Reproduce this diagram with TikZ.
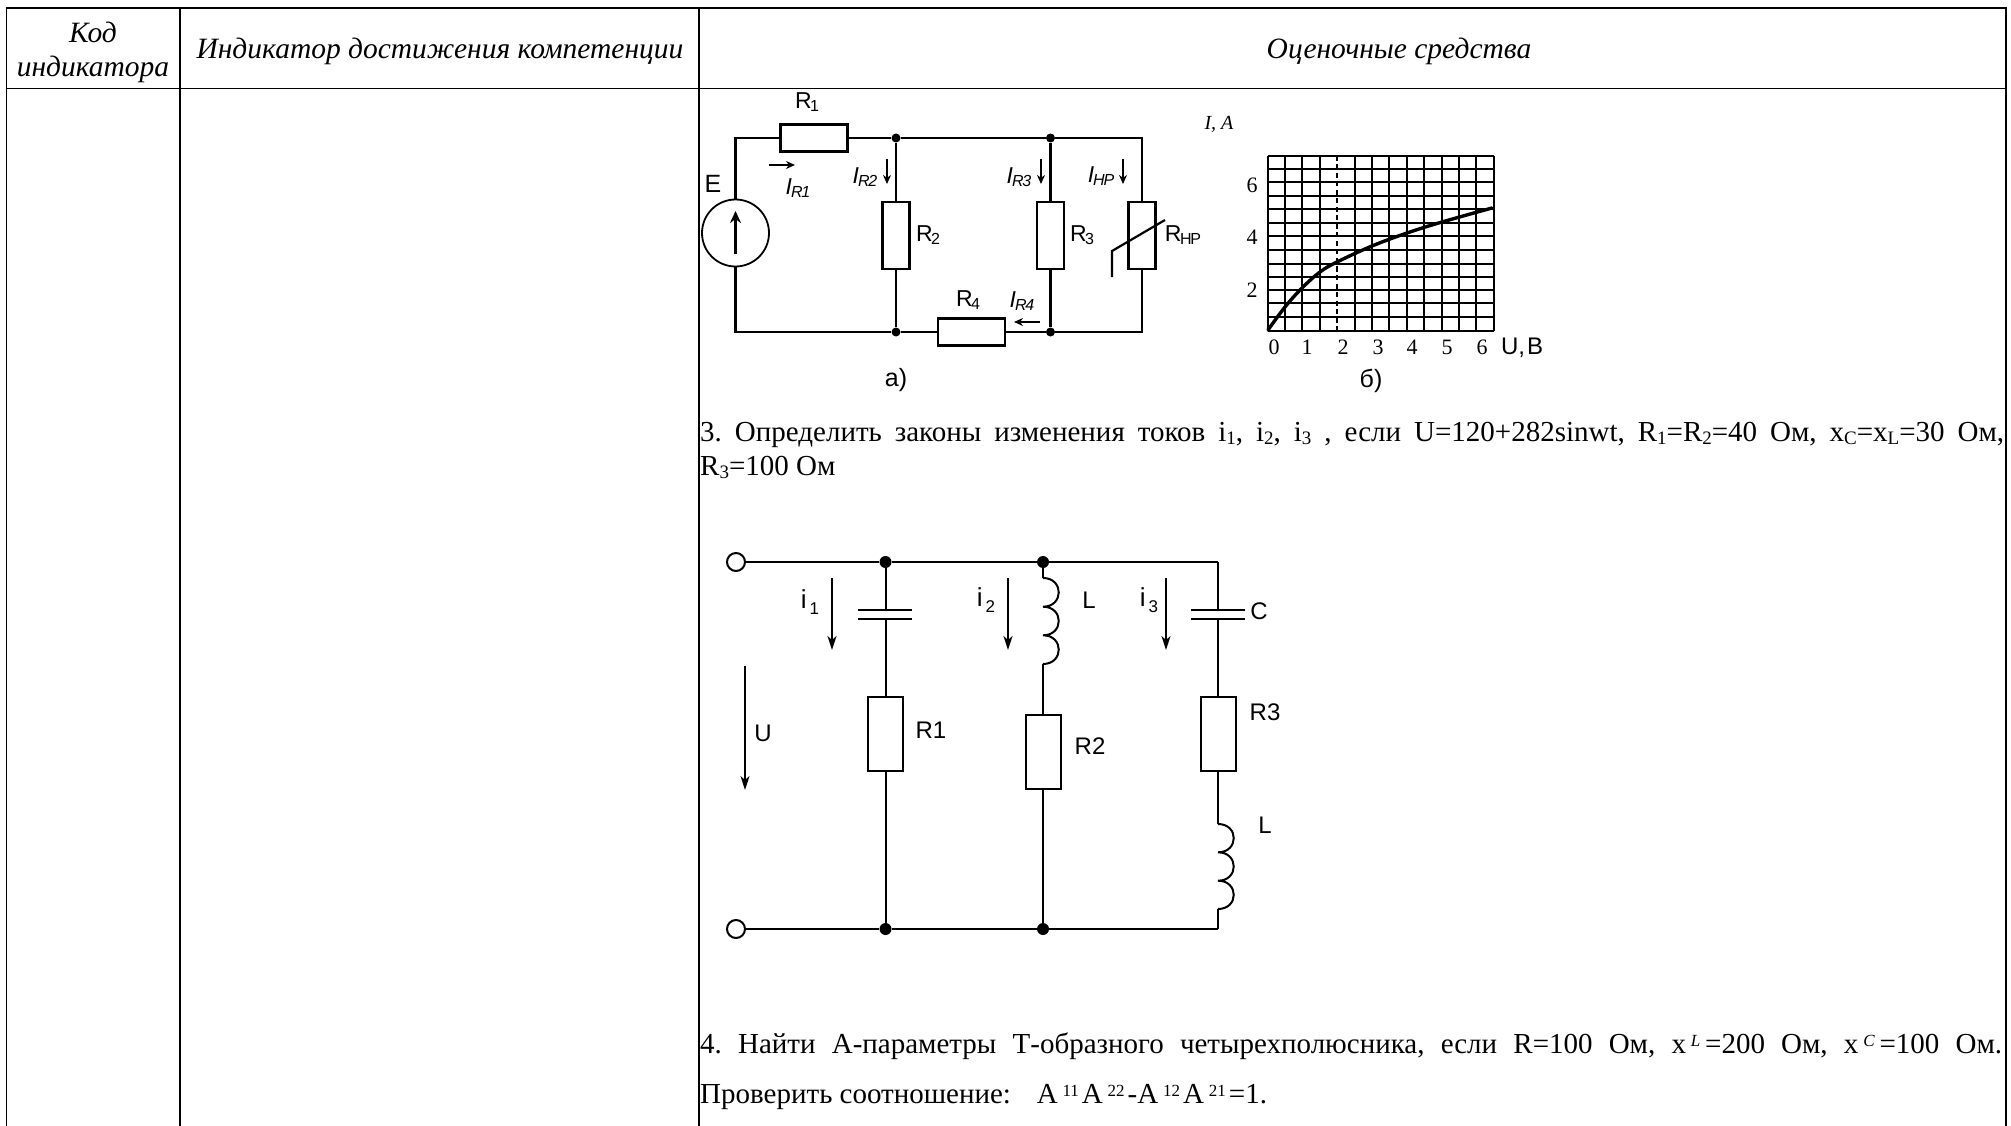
\documentclass[tikz,border=0pt]{standalone}
\usepackage{fontspec}
\setmainfont{Liberation Serif}
\newfontfamily\cirf{Liberation Sans}
\usetikzlibrary{arrows.meta}
\newcommand{\lowtxt}[1]{\raisebox{-3.5pt}{\fontsize{19}{19}\selectfont #1}}
\newcommand{\hightxt}[1]{\raisebox{7pt}{\fontsize{17}{17}\selectfont #1}}
\newcommand{\Rs}[1]{R\kern-1.5pt\raisebox{-3pt}{\fontsize{16}{16}\selectfont\addfontfeature{LetterSpace=-8}#1}}
\newcommand{\Is}[1]{\textit{I}\kern-1pt\raisebox{-3pt}{\fontsize{16}{16}\selectfont\itshape\addfontfeature{LetterSpace=-8}#1}}
\newcommand{\ib}[1]{{\fontsize{26}{26}\selectfont i}\kern3pt\raisebox{-6pt}{\fontsize{17}{17}\selectfont #1}}
\tikzset{
 x=1pt,y=-1pt,
 tline/.style={line width=1.9pt},
 body/.style={font=\fontsize{29}{32}\selectfont\frenchspacing,inner sep=0pt,anchor=base west},
 head/.style={font=\fontsize{29.5}{32}\selectfont\itshape,inner sep=0pt,anchor=base},
 ca/.style={font=\cirf\fontsize{23}{23}\selectfont,inner sep=0pt},
 cb/.style={font=\cirf\fontsize{24}{24}\selectfont,inner sep=0pt},
 tick/.style={font=\fontsize{22}{22}\selectfont,inner sep=0pt},
 wa/.style={line width=2.2pt},
 wb/.style={line width=2pt},
 boxa/.style={draw,line width=2.1pt,fill=white,inner sep=0pt,minimum width=#1},
 boxb/.style={draw,line width=2pt,fill=white,inner sep=0pt,minimum width=35pt,minimum height=74pt},
 dota/.style={circle,fill,inner sep=0pt,minimum size=9pt},
 dotb/.style={circle,fill,inner sep=0pt,minimum size=12pt},
 termb/.style={circle,draw,line width=2pt,fill=white,inner sep=0pt,minimum size=18pt},
 arra/.style={line width=1.9pt,-{Stealth[length=9pt,width=8pt]}},
 arrb/.style={line width=1.7pt,-{Stealth[length=14pt,width=9pt,inset=4pt]}},
 gridl/.style={line width=1.2pt},
}
\begin{document}
\begin{tikzpicture}
\useasboundingbox (0,0) rectangle (2011,1126);
\fill[white] (0,0) rectangle (2011,1126);
% table
\draw[tline] (6.5,1126) -- (6.5,8) -- (2006,8) -- (2006,1126);
\draw[tline] (6.5,88.5) -- (2006,88.5);
\draw[tline] (180,8) -- (180,1126);
\draw[tline] (699,8) -- (699,1126);
\node[head] (h1) at (93,43) {Код};
\node[head] (h1b) at (93,77) {индикатора};
\node[head] (h2) at (440,59) {Индикатор достижения компетенции};
\node[head] (h3) at (1399,59) {Оценочные средства};
\node[body] (t3a) at (700,441) {\hbox to 1304pt{3. Определить законы изменения токов i\lowtxt{1}, i\lowtxt{2}, i\lowtxt{3} , если U=120+282sinwt, R\lowtxt{1}=R\lowtxt{2}=40 Ом, x\lowtxt{C}=x\lowtxt{L}=30 Ом,}};
\node[body] (t3b) at (700,475) {R\lowtxt{3}=100 Ом};
\node[body] (t4a) at (700,1053) {\hbox to 1302pt{4. Найти А-параметры Т-образного четырехполюсника, если R=100 Ом, x\,\hightxt{\textit{L}}\,=200 Ом, x\,\hightxt{\textit{C}}\,=100 Ом.}};
\node[body] (t4b) at (700,1103) {Проверить соотношение:\ \ \ \kern4pt A\,\hightxt{11}\kern3pt A\,\hightxt{22}\kern3pt -A\,\hightxt{12}\kern3pt A\,\hightxt{21}\kern3pt =1.};
% circuit a
\coordinate (atl) at (735.5,138);
\coordinate (atr) at (1142,138);
\coordinate (abl) at (735.5,332);
\coordinate (abr) at (1142,332);
\node[dota] (n1) at (896,138) {};
\node[dota] (n2) at (1050.5,138) {};
\node[dota] (n3) at (896,332) {};
\node[dota] (n4) at (1050.5,332) {};
\node[circle,draw,line width=1.8pt,inner sep=0pt,minimum size=67pt] (src) at (735.5,233) {};
\node[boxa=67pt,minimum height=27pt] (r1) at (814,138) {};
\node[boxa=27pt,minimum height=67pt] (r2) at (896,235.5) {};
\node[boxa=27pt,minimum height=67pt] (r3) at (1050.5,235.5) {};
\node[boxa=27pt,minimum height=67pt] (rh) at (1142,235.5) {};
\node[boxa=67pt,minimum height=27pt] (r4) at (971.5,332) {};
\draw[wa] (src.north) -- (atl) -- (r1.west);
\draw[wa] (r1.east) -- (n1) -- (n2) -- (atr) -- (rh.north);
\draw[wa] (rh.south) -- (abr) -- (n4) -- (r4.east);
\draw[wa] (r4.west) -- (n3) -- (abl) -- (src.south);
\draw[wa] (n1) -- (r2.north);
\draw[wa] (r2.south) -- (n3);
\draw[wa] (n2) -- (r3.north);
\draw[wa] (r3.south) -- (n4);
\coordinate (sa) at (735.5,254); \coordinate (sb) at (735.5,211);
\draw[line width=2.4pt,-{Stealth[length=12pt,width=11pt]}] (sa) -- (sb);
\coordinate (s1) at (1112,277); \coordinate (s2) at (1112,251); \coordinate (s3) at (1165,220);
\draw[line width=2.2pt] (s1) -- (s2) -- (s3);
\coordinate (ai1) at (769,165); \coordinate (ai1e) at (795,165);
\coordinate (ai2) at (887,159); \coordinate (ai2e) at (887,184);
\coordinate (ai3) at (1041,159); \coordinate (ai3e) at (1041,184);
\coordinate (ai4) at (1123,159); \coordinate (ai4e) at (1123,184);
\coordinate (ai5) at (1040,322); \coordinate (ai5e) at (1014,322);
\draw[arra] (ai1) -- (ai1e);
\draw[arra] (ai2) -- (ai2e);
\draw[arra] (ai3) -- (ai3e);
\draw[arra] (ai4) -- (ai4e);
\draw[arra] (ai5) -- (ai5e);
\node[ca] (lr1) at (807,102) {\Rs{1}};
\node[ca,font=\cirf\fontsize{25}{25}\selectfont] (le) at (713,184) {E};
\node[ca] (li1) at (798,188) {\Is{R1}};
\node[ca] (li2) at (865,177) {\Is{R2}};
\node[ca] (li3) at (1019,177) {\Is{R3}};
\node[ca] (lih) at (1101,176) {\Is{HP}};
\node[ca] (lr2) at (928,235) {\Rs{2}};
\node[ca] (lr3) at (1082,235) {\Rs{3}};
\node[ca] (lrh) at (1183,235) {\Rs{HP}};
\node[ca] (lr4) at (968,300) {\Rs{4}};
\node[ca] (li4) at (1022,301) {\Is{R4}};
\node[ca,font=\cirf\fontsize{25}{25}\selectfont] (la) at (896,380) {а)};
% graph
\foreach \gx in {1268,1285,1302,1320,1355,1372,1389,1407,1424,1442,1459,1476,1494}
  \draw[gridl] (\gx,156) -- (\gx,331);
\foreach \gy in {156,169,182,196,209,223,236,250,264,277,290,303,317,331}
  \draw[gridl] (1268,\gy) -- (1494,\gy);
\draw[gridl,dashed,dash pattern=on 5pt off 3.5pt] (1337,156) -- (1337,331);
\draw[line width=3.4pt,line cap=round] plot[smooth,tension=0.6] coordinates {(1268,330) (1285,307) (1302,288) (1320,272) (1337,262) (1372,246) (1407,233) (1442,222) (1492,208)};
\node[font=\fontsize{20}{20}\selectfont\itshape,inner sep=0pt] (ly) at (1219,124) {I, A};
\node[tick] (y6) at (1252,185) {6};
\node[tick] (y4) at (1252,237) {4};
\node[tick] (y2) at (1252,290) {2};
\node[tick] (x0) at (1274,347) {0};
\node[tick] (x1) at (1307,347) {1};
\node[tick] (x2) at (1343,347) {2};
\node[tick] (x3) at (1378,347) {3};
\node[tick] (x4) at (1412,347) {4};
\node[tick] (x5) at (1447,347) {5};
\node[tick] (x6) at (1482,347) {6};
\node[ca,font=\cirf\fontsize{24}{24}\selectfont] (lu) at (1522,348) {U,\kern2pt В};
\node[ca,font=\cirf\fontsize{25}{25}\selectfont] (lb) at (1371,381) {б)};
% circuit b
\node[termb] (t1) at (736,562) {};
\node[termb] (t2) at (736,929) {};
\node[dotb] (m1) at (885.5,562) {};
\node[dotb] (m2) at (1043,562) {};
\node[dotb] (m3) at (885.5,929) {};
\node[dotb] (m4) at (1043,929) {};
\coordinate (mr) at (1218,562);
\coordinate (mb) at (1218,929);
\draw[wb] (t1) -- (m1) -- (m2) -- (mr);
\draw[wb] (t2) -- (m3) -- (m4) -- (mb);
% branch 1
\node[boxb] (br1) at (885.5,734) {};
\coordinate (c1a) at (885.5,610); \coordinate (c1b) at (885.5,619);
\coordinate (c1al) at (858,610); \coordinate (c1ar) at (912,610);
\coordinate (c1bl) at (858,619); \coordinate (c1br) at (912,619);
\draw[wb] (m1) -- (c1a);
\draw[wb] (c1b) -- (br1.north);
\draw[wb] (br1.south) -- (m3);
\draw[line width=2.4pt] (c1al) -- (c1ar);
\draw[line width=2.4pt] (c1bl) -- (c1br);
% branch 2
\node[boxb] (br2) at (1043,751.5) {};
\coordinate (l1a) at (1043,578); \coordinate (l1b) at (1043,664);
\draw[wb] (m2) -- (l1a);
\draw[wb] (l1a) .. controls (1064,578) and (1064,606.7) .. (1043,606.7) .. controls (1064,606.7) and (1064,635.3) .. (1043,635.3) .. controls (1064,635.3) and (1064,664) .. (l1b);
\draw[wb] (l1b) -- (br2.north);
\draw[wb] (br2.south) -- (m4);
% branch 3
\node[boxb] (br3) at (1218,734) {};
\coordinate (c3a) at (1218,610); \coordinate (c3b) at (1218,619);
\coordinate (c3al) at (1191,610); \coordinate (c3ar) at (1245,610);
\coordinate (c3bl) at (1191,619); \coordinate (c3br) at (1245,619);
\coordinate (l2a) at (1218,824); \coordinate (l2b) at (1218,909);
\draw[wb] (mr) -- (c3a);
\draw[wb] (c3b) -- (br3.north);
\draw[wb] (br3.south) -- (l2a);
\draw[wb] (l2a) .. controls (1239,824) and (1239,852.3) .. (1218,852.3) .. controls (1239,852.3) and (1239,880.7) .. (1218,880.7) .. controls (1239,880.7) and (1239,909) .. (l2b);
\draw[wb] (l2b) -- (mb);
\draw[line width=2.4pt] (c3al) -- (c3ar);
\draw[line width=2.4pt] (c3bl) -- (c3br);
% arrows b
\coordinate (bi1) at (832,578); \coordinate (bi1e) at (832,650);
\coordinate (bi2) at (1008,578); \coordinate (bi2e) at (1008,650);
\coordinate (bi3) at (1166,578); \coordinate (bi3e) at (1166,650);
\coordinate (bu) at (745,666); \coordinate (bue) at (745,790);
\draw[arrb] (bi1) -- (bi1e);
\draw[arrb] (bi2) -- (bi2e);
\draw[arrb] (bi3) -- (bi3e);
\draw[arrb] (bu) -- (bue);
\node[cb] (li1b) at (810,602) {\ib{1}};
\node[cb] (li2b) at (986,600) {\ib{2}};
\node[cb] (li3b) at (1149,600) {\ib{3}};
\node[cb] (ll1) at (1089,600) {L};
\node[cb] (lc) at (1259,611) {C};
\node[cb] (lr1b) at (931,730) {R1};
\node[cb] (lr2b) at (1090,746) {R2};
\node[cb] (lr3b) at (1265,712) {R3};
\node[cb] (lub) at (763,733) {U};
\node[cb] (ll2) at (1265,825) {L};
\end{tikzpicture}
\end{document}
